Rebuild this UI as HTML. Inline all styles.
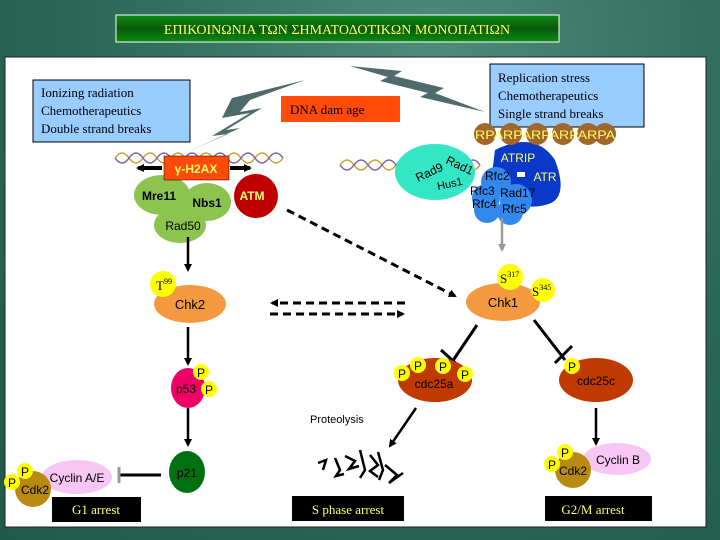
<!DOCTYPE html>
<html><head><meta charset="utf-8"><style>
body{margin:0;width:720px;height:540px;overflow:hidden;background:radial-gradient(ellipse at 60% 10%,#4f8a7a,#2a6656 60%,#1f5a4a);}
svg{position:absolute;left:0;top:0}
text{font-family:"Liberation Sans",sans-serif}
.s{font-family:"Liberation Serif",serif}
</style></head><body>
<svg width="720" height="540" viewBox="0 0 720 540">
<defs>
<linearGradient id="tg" x1="0" y1="0" x2="0" y2="1"><stop offset="0" stop-color="#0a8a14"/><stop offset="0.5" stop-color="#0a5a0a"/><stop offset="1" stop-color="#0a8a14"/></linearGradient>
<marker id="ah" markerWidth="8" markerHeight="8" refX="6" refY="4" orient="auto" markerUnits="userSpaceOnUse"><path d="M0,0 L8,4 L0,8 Z" fill="#000"/></marker>
<marker id="ahg" markerWidth="8" markerHeight="8" refX="6" refY="4" orient="auto" markerUnits="userSpaceOnUse"><path d="M0,0 L8,4 L0,8 Z" fill="#999"/></marker>
</defs>
<rect x="116" y="15" width="443" height="27" fill="url(#tg)" stroke="#fff" stroke-width="1"/>
<text x="337" y="34" class="s" font-size="14" fill="#ffff66" text-anchor="middle">ΕΠΙΚΟΙΝΩΝΙΑ ΤΩΝ ΣΗΜΑΤΟΔΟΤΙΚΩΝ ΜΟΝΟΠΑΤΙΩΝ</text>
<rect x="5" y="57" width="701" height="470" fill="#fff" stroke="#222" stroke-width="1"/>
<!-- lightning -->
<polygon points="305,80 232,98 222,118 250,113 212,136 228,134 185,153 240,128 226,130 262,108 240,112 250,100" fill="#4e6a6a"/>
<polygon points="350,66 402,71 394,76 444,88 435,93 485,112 420,97 428,93 380,81 388,77" fill="#4e6a6a"/>
<rect x="33" y="80" width="157" height="62" fill="#99ccff" stroke="#000"/>
<text class="s" font-size="13" x="41" y="97">Ionizing radiation</text>
<text class="s" font-size="13" x="41" y="115">Chemotherapeutics</text>
<text class="s" font-size="13" x="41" y="133">Double strand breaks</text>
<rect x="281" y="96" width="119" height="26" fill="#ff4a0a"/>
<text class="s" font-size="13" x="290" y="114">DNA dam age</text>
<rect x="490" y="64" width="154" height="63" fill="#99ccff" stroke="#000"/>
<text class="s" font-size="13" x="498" y="82">Replication stress</text>
<text class="s" font-size="13" x="498" y="100">Chemotherapeutics</text>
<text class="s" font-size="13" x="498" y="118">Single strand breaks</text>
<!-- DNA -->
<g fill="none" stroke-width="1.5">
<path d="M115,158 q7,-10 14,0 t14,0 t14,0 t14,0 t14,0 t14,0 t14,0 t14,0 t14,0 t14,0 t14,0 t14,0" stroke="#c9a030"/>
<path d="M115,158 q7,10 14,0 t14,0 t14,0 t14,0 t14,0 t14,0 t14,0 t14,0 t14,0 t14,0 t14,0 t14,0" stroke="#8060a0"/>
<path d="M340,165 q7,-10 14,0 t14,0 t14,0 t14,0 t14,0 t14,0 t14,0 t14,0 t14,0 t14,0" stroke="#c9a030"/>
<path d="M340,165 q7,10 14,0 t14,0 t14,0 t14,0 t14,0 t14,0 t14,0 t14,0 t14,0 t14,0" stroke="#8060a0"/>
</g>
<!-- left complex -->
<line x1="162" y1="168" x2="138" y2="168" stroke="#000" stroke-width="4" marker-end="url(#ah)"/>
<line x1="230" y1="168" x2="250" y2="168" stroke="#000" stroke-width="4" marker-end="url(#ah)"/>
<ellipse cx="180" cy="225" rx="26" ry="18" fill="#8dc44f"/>
<ellipse cx="162" cy="195" rx="28" ry="20" fill="#8dc44f"/>
<ellipse cx="207" cy="202" rx="24" ry="19" fill="#8dc44f"/>
<circle cx="256" cy="196" r="22" fill="#c00000"/>
<rect x="164" y="156" width="65" height="24" fill="#ff4a0a" stroke="#000" stroke-width="0.5"/>
<text x="196" y="173" font-size="12" fill="#ffff66" text-anchor="middle" font-weight="bold">γ-H2AX</text>
<text x="159" y="200" font-size="12" text-anchor="middle" font-weight="bold">Mre11</text>
<text x="207" y="207" font-size="12" text-anchor="middle" font-weight="bold">Nbs1</text>
<text x="252" y="200" font-size="12" text-anchor="middle" fill="#ffff66" font-weight="bold">ATM</text>
<text x="183" y="230" font-size="12" text-anchor="middle">Rad50</text>
<!-- right complex -->
<path d="M495,150 q40,-20 60,10 q15,40 -10,45 q-20,5 -30,-5 l-25,-10 z" fill="#0a38c8"/>
<ellipse cx="435" cy="172" rx="40" ry="28" fill="#33e6c6"/>
<circle cx="496" cy="182" r="15" fill="#3388ee"/>
<circle cx="486" cy="198" r="14" fill="#3388ee"/>
<circle cx="487" cy="210" r="13" fill="#3388ee"/>
<circle cx="516" cy="200" r="16" fill="#3388ee"/>
<circle cx="510" cy="212" r="13" fill="#3388ee"/>
<g fill="#a0662a">
<circle cx="485" cy="134" r="11"/><circle cx="511" cy="134" r="11"/><circle cx="537" cy="134" r="11"/><circle cx="563" cy="134" r="11"/><circle cx="588" cy="134" r="11"/><circle cx="605" cy="134" r="11"/>
</g>
<text x="475" y="139" font-size="12" fill="#ffff66" textLength="140" lengthAdjust="spacingAndGlyphs">RPARPARPARPARPA</text>
<text x="518" y="162" font-size="12" fill="#ffff66" text-anchor="middle">ATRIP</text>
<text x="545" y="181" font-size="12" fill="#ffff66" text-anchor="middle">ATR</text>
<rect x="517" y="172" width="8" height="5" fill="#fff"/>
<text x="418" y="182" font-size="12" transform="rotate(-25 418 182)">Rad9</text>
<text x="445" y="163" font-size="12" transform="rotate(25 445 163)">Rad1</text>
<text x="438" y="190" font-size="11" transform="rotate(-12 438 190)">Hus1</text>
<text x="485" y="180" font-size="12">Rfc2</text>
<text x="470" y="195" font-size="12">Rfc3</text>
<text x="500" y="197" font-size="12">Rad17</text>
<text x="472" y="208" font-size="12">Rfc4</text>
<text x="502" y="213" font-size="12">Rfc5</text>
<line x1="502" y1="218" x2="502" y2="250" stroke="#999" stroke-width="2.5" marker-end="url(#ahg)"/>
<!-- arrows -->
<line x1="188" y1="237" x2="188" y2="270" stroke="#000" stroke-width="2.5" marker-end="url(#ah)"/>
<line x1="287" y1="210" x2="455" y2="296" stroke="#000" stroke-width="3" stroke-dasharray="8,5" marker-end="url(#ah)"/>
<line x1="405" y1="303" x2="272" y2="303" stroke="#000" stroke-width="3" stroke-dasharray="8,5" marker-end="url(#ah)"/>
<line x1="270" y1="314" x2="403" y2="314" stroke="#000" stroke-width="3" stroke-dasharray="8,5" marker-end="url(#ah)"/>
<!-- Chk2 -->
<ellipse cx="190" cy="304" rx="36" ry="19" fill="#f39a40"/>
<circle cx="163" cy="284" r="13" fill="#ffff00"/>
<text x="156" y="290" class="s" font-size="13">T<tspan font-size="8" dy="-6">99</tspan></text>
<text x="190" y="309" font-size="13" text-anchor="middle">Chk2</text>
<!-- Chk1 -->
<ellipse cx="503" cy="302" rx="37" ry="19" fill="#f39a40"/>
<circle cx="510" cy="277" r="13" fill="#ffff00"/>
<circle cx="543" cy="290" r="12" fill="#ffff00"/>
<text x="500" y="283" class="s" font-size="13">S<tspan font-size="8" dy="-6">317</tspan></text>
<text x="532" y="296" class="s" font-size="13">S<tspan font-size="8" dy="-6">345</tspan></text>
<text x="503" y="307" font-size="13" text-anchor="middle">Chk1</text>
<!-- p53/p21 -->
<line x1="188" y1="327" x2="188" y2="364" stroke="#000" stroke-width="2.5" marker-end="url(#ah)"/>
<ellipse cx="188" cy="388" rx="17" ry="20" fill="#ee0066"/>
<circle cx="201" cy="372" r="8" fill="#ffff00"/><circle cx="209" cy="389" r="8" fill="#ffff00"/>
<text x="201" y="377" font-size="12" text-anchor="middle">P</text>
<text x="209" y="394" font-size="12" text-anchor="middle">P</text>
<text x="186" y="393" font-size="12" text-anchor="middle">p53</text>
<line x1="188" y1="408" x2="188" y2="445" stroke="#000" stroke-width="2.5" marker-end="url(#ah)"/>
<ellipse cx="187" cy="472" rx="18" ry="21" fill="#007010"/>
<text x="187" y="477" font-size="12" text-anchor="middle">p21</text>
<line x1="161" y1="475" x2="120" y2="475" stroke="#000" stroke-width="3"/>
<line x1="119" y1="467" x2="119" y2="483" stroke="#999" stroke-width="3"/>
<ellipse cx="77" cy="477" rx="35" ry="17" fill="#f6c6f4"/>
<circle cx="33" cy="489" r="18" fill="#b88a10"/>
<circle cx="25" cy="471" r="8" fill="#ffff00"/><circle cx="12" cy="482" r="8" fill="#ffff00"/>
<text x="25" y="476" font-size="12" text-anchor="middle">P</text>
<text x="12" y="487" font-size="12" text-anchor="middle">P</text>
<text x="35" y="494" font-size="12" text-anchor="middle">Cdk2</text>
<text x="77" y="482" font-size="12" text-anchor="middle">Cyclin A/E</text>
<rect x="52" y="497" width="89" height="25" fill="#000"/>
<text x="96" y="514" class="s" font-size="13" fill="#ffff66" text-anchor="middle">G1 arrest</text>
<!-- cdc25a -->
<line x1="477" y1="325" x2="452" y2="362" stroke="#000" stroke-width="3"/>
<line x1="441" y1="350" x2="461" y2="368" stroke="#000" stroke-width="3"/>
<ellipse cx="435" cy="380" rx="37" ry="22" fill="#c03a00"/>
<g fill="#ffff00"><circle cx="402" cy="373" r="8"/><circle cx="418" cy="365" r="8"/><circle cx="443" cy="366" r="8"/><circle cx="465" cy="374" r="8"/></g>
<g font-size="12" text-anchor="middle"><text x="402" y="378">P</text><text x="418" y="370">P</text><text x="443" y="371">P</text><text x="465" y="379">P</text></g>
<text x="434" y="388" font-size="12" text-anchor="middle">cdc25a</text>
<!-- cdc25c -->
<line x1="534" y1="320" x2="565" y2="360" stroke="#000" stroke-width="3"/>
<line x1="555" y1="363" x2="572" y2="346" stroke="#000" stroke-width="3"/>
<ellipse cx="596" cy="380" rx="37" ry="22" fill="#c03a00"/>
<circle cx="572" cy="366" r="8" fill="#ffff00"/>
<text x="572" y="371" font-size="12" text-anchor="middle">P</text>
<text x="596" y="385" font-size="12" text-anchor="middle">cdc25c</text>
<text x="310" y="423" font-size="11">Proteolysis</text>
<line x1="416" y1="408" x2="390" y2="446" stroke="#000" stroke-width="2.5" marker-end="url(#ah)"/>
<path d="M318,463 l8,-3 -3,10 M335,458 l5,12 -4,6 8,-2 M345,456 l10,5 -6,8 10,-3 M360,450 l5,20 -5,8 M370,455 l8,10 -8,6 8,6 M378,452 l5,18 -4,10 M385,465 l12,10 -8,8 14,-10" fill="none" stroke="#000" stroke-width="2.5"/>
<rect x="292" y="496" width="112" height="25" fill="#000"/>
<text x="348" y="514" class="s" font-size="13" fill="#ffff66" text-anchor="middle">S phase arrest</text>
<!-- G2/M -->
<line x1="596" y1="408" x2="596" y2="444" stroke="#000" stroke-width="2.5" marker-end="url(#ah)"/>
<ellipse cx="617" cy="459" rx="34" ry="16" fill="#f6c6f4"/>
<circle cx="573" cy="470" r="18" fill="#b88a10"/>
<circle cx="565" cy="452" r="8" fill="#ffff00"/><circle cx="552" cy="464" r="8" fill="#ffff00"/>
<text x="565" y="457" font-size="12" text-anchor="middle">P</text>
<text x="552" y="469" font-size="12" text-anchor="middle">P</text>
<text x="573" y="475" font-size="12" text-anchor="middle">Cdk2</text>
<text x="618" y="464" font-size="12" text-anchor="middle">Cyclin B</text>
<rect x="545" y="496" width="107" height="25" fill="#000"/>
<text x="593" y="514" class="s" font-size="13" fill="#ffff66" text-anchor="middle">G2/M arrest</text>
</svg>
</body></html>
